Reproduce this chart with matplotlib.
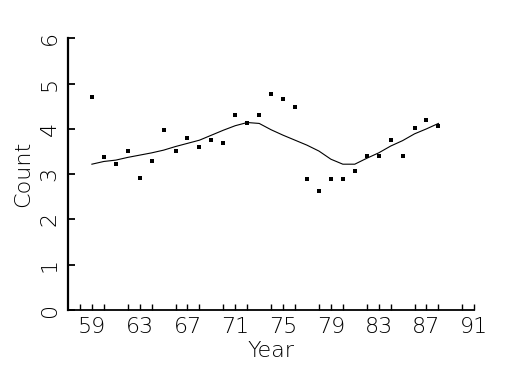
"""
Yearly counts with a smoothed trend line
"""

import numpy as np
import matplotlib
matplotlib.use("Agg")
import matplotlib.pyplot as plt
from matplotlib.ticker import MultipleLocator

years = list(range(59, 89))
counts = [4.70, 3.37, 3.22, 3.51, 2.91, 3.30, 3.97, 3.51, 3.79, 3.61,
          3.75, 3.68, 4.30, 4.14, 4.30, 4.78, 4.65, 4.49, 2.89, 2.62,
          2.89, 2.89, 3.06, 3.41, 3.41, 3.75, 3.41, 4.01, 4.19, 4.07]

# smoothed fit
smooth = [3.22, 3.28, 3.31, 3.37, 3.42, 3.47, 3.53, 3.61, 3.68, 3.75,
          3.86, 3.97, 4.07, 4.14, 4.12, 3.98, 3.86, 3.75, 3.64, 3.51,
          3.33, 3.22, 3.22, 3.35, 3.47, 3.62, 3.74, 3.89, 4.00, 4.12]

plt.rcParams["font.family"] = ["DejaVu Sans"]
plt.rcParams["font.weight"] = "light"
plt.rcParams["axes.labelweight"] = "light"

fig = plt.figure(figsize=(5.25, 3.75), dpi=100)
ax = fig.add_axes([0.1295, 0.1733, 0.7739, 0.7246])

ax.plot(years, smooth, color="black", lw=0.8)
ax.plot(years, counts, ls="none", marker="s", ms=2.2, color="black", mew=0)

ax.set_xlim(57, 91)
ax.set_ylim(0, 6)

ax.spines["top"].set_visible(False)
ax.spines["right"].set_visible(False)
ax.spines["left"].set_linewidth(1.6)
ax.spines["bottom"].set_linewidth(1.3)

ax.set_xticks(range(59, 92, 4))
ax.xaxis.set_minor_locator(MultipleLocator(2))
ax.tick_params(axis="x", which="both", direction="in", length=4, width=1,
               labelsize=16, pad=5)
ax.set_yticks(range(0, 7))
ax.tick_params(axis="y", direction="in", length=5, width=1.3, labelsize=16, pad=6)
for lab in ax.get_yticklabels():
    lab.set_rotation(90)
    lab.set_va("center")

ax.set_xlabel("Year", fontsize=16, labelpad=3)
ax.set_ylabel("Count", fontsize=16, labelpad=5)

fig.savefig("out.png", dpi=100)
